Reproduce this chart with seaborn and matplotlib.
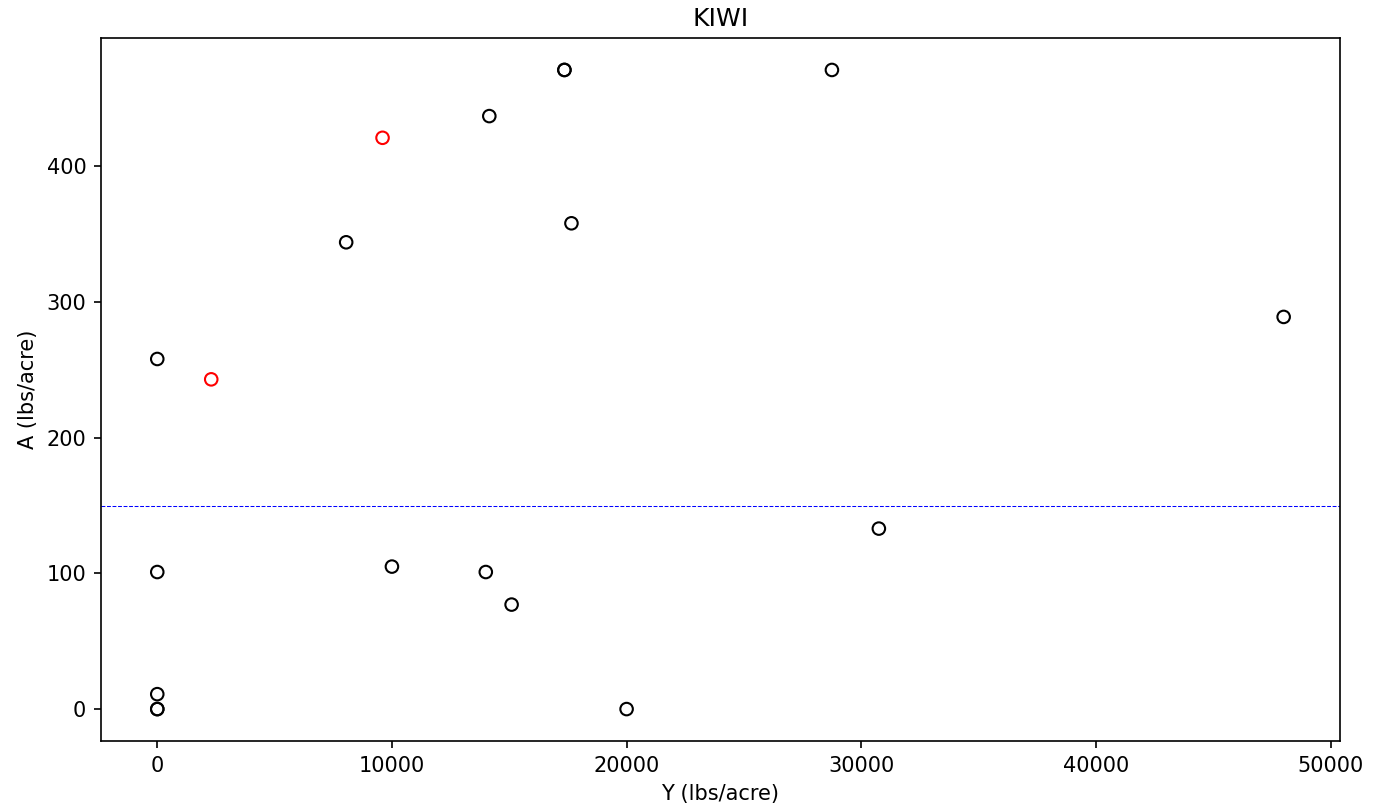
import matplotlib
matplotlib.use("Agg")
import matplotlib.pyplot as plt
import pandas as pd
import seaborn as sns

# yield (Y) vs applied (A), lbs/acre
y_black = [0, 0, 0, 0, 0, 8050, 10000, 14000, 14150, 15100, 17350, 17350, 17650, 20000, 28750, 30750, 48000]
a_black = [0, 0, 11, 101, 258, 344, 105, 101, 437, 77, 471, 471, 358, 0, 471, 133, 289]

# flagged points
y_red = [2300, 9600]
a_red = [243, 421]

threshold = 150

black = pd.DataFrame({'Y': y_black, 'A': a_black})
red = pd.DataFrame({'Y': y_red, 'A': a_red})

fig = plt.figure(figsize=(1379 / 150, 812 / 150), dpi=150)
ax = fig.add_axes([0.0732, 0.0874, 0.8985, 0.8658])

sns.scatterplot(data=black, x='Y', y='A', ax=ax, s=36, marker='o',
                facecolors='none', edgecolor='black', linewidth=1.0)
sns.scatterplot(data=red, x='Y', y='A', ax=ax, s=36, marker='o',
                facecolors='none', edgecolor='red', linewidth=1.0)

ax.axhline(threshold, color='blue', linestyle='--', linewidth=0.5)

ax.set_title('KIWI')
ax.set_xlabel('Y (lbs/acre)')
ax.set_ylabel('A (lbs/acre)')

fig.savefig('out.png', dpi=150)
